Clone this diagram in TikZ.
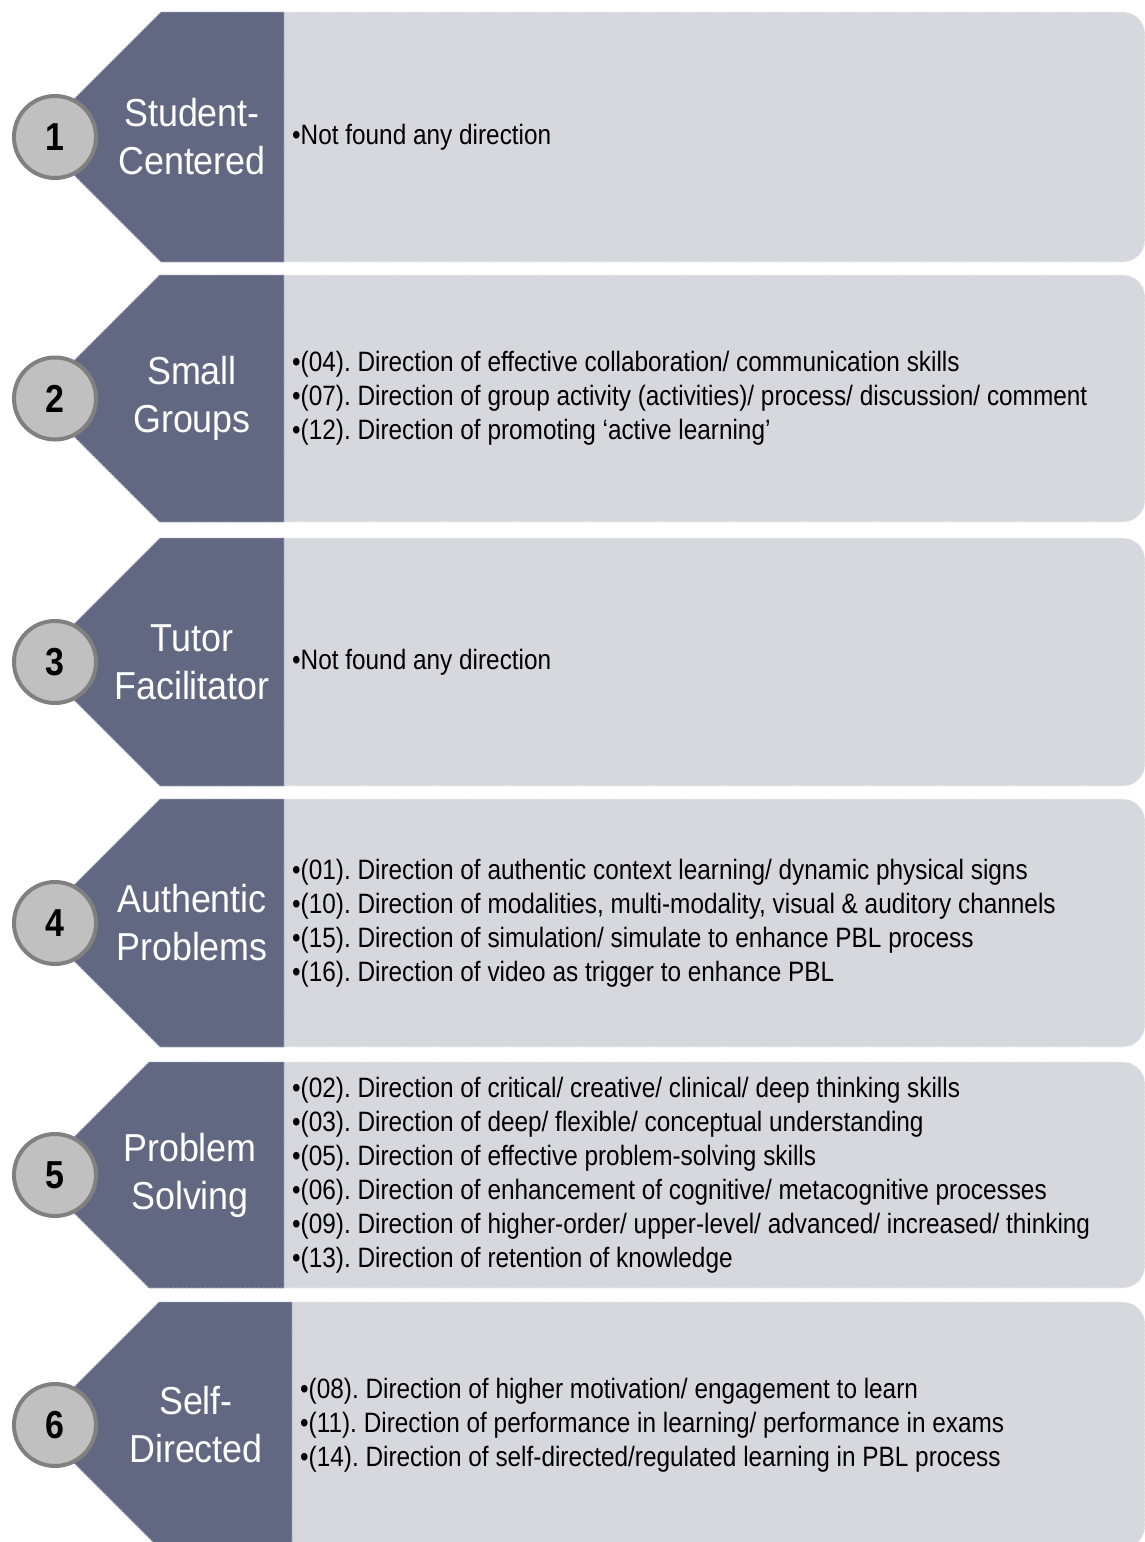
\documentclass[tikz,border=0pt]{standalone}
\usepackage{fontspec}
\setmainfont[FakeStretch=0.87]{Liberation Sans}
\newfontfamily\lblfont[FakeStretch=0.92]{Liberation Sans}
\frenchspacing
\definecolor{darkfill}{HTML}{626882}
\definecolor{darkedge}{HTML}{A7B0C4}
\definecolor{lightfill}{HTML}{D7D8DD}
\definecolor{lightedge}{HTML}{F2F2F4}
\definecolor{circfill}{HTML}{C0C0C0}
\definecolor{ringgray}{HTML}{808080}
\tikzset{
  chevshape/.style={fill=darkfill, draw=darkedge, line width=0.8pt, dash pattern=on 3pt off 1.5pt},
  lightbox/.style={fill=lightfill, draw=lightedge, line width=0.8pt, dash pattern=on 3pt off 1.5pt},
  numcirc/.style={circle, fill=circfill, draw=ringgray, line width=4pt, minimum size=82pt, inner sep=0pt,
    font=\fontsize{39}{40}\selectfont\bfseries, text=black},
  lbl/.style={text=white, align=center, inner sep=0pt, font=\lblfont\fontsize{39}{48}\selectfont},
  items/.style={anchor=west, align=left, inner sep=0pt, text=black, font=\fontsize{28}{34}\selectfont}
}
% #1 id, #2 top, #3 bottom, #4 dark right x, #5 number, #6 label, #7 items, #8 label x
\newcommand{\pblrow}[8]{%
  \pgfmathsetmacro{\rmid}{(#2+#3)/2}%
  \pgfmathsetmacro{\rhalf}{(#3-#2)/2}%
  \pgfmathsetmacro{\rtl}{36+\rhalf}%
  \pgfmathsetmacro{\rbr}{#3-22}%
  \path[lightbox] (#4,#2) -- (1123,#2) arc[start angle=90, end angle=0, radius=22pt]
     -- (1145,\rbr) arc[start angle=0, end angle=-90, radius=22pt] -- (#4,#3) -- cycle;
  \path[chevshape] (36,\rmid) -- (\rtl,#2) -- (#4,#2) -- (#4,#3) -- (\rtl,#3) -- cycle;
  \node[numcirc] (num#1) at (55,\rmid) {#5};
  \node[lbl] (lbl#1) at (#8,\rmid) {#6};
  \node[items] (txt#1) at (#4+8,\rmid) {#7};
}
\begin{document}
\begin{tikzpicture}[x=1pt, y=-1pt]
\useasboundingbox (0,0) rectangle (1145,1542);
\clip (0,0) rectangle (1145,1542);
\pblrow{a}{12}{262}{284}{1}{Student-\\Centered}{•Not found any direction}{192}
\pblrow{b}{275}{522}{284}{2}{Small\\Groups}{•(04). Direction of effective collaboration/ communication skills\\
•(07). Direction of group activity (activities)/ process/ discussion/ comment\\
•(12). Direction of promoting ‘active learning'}{192}
\pblrow{c}{538}{786}{284}{3}{Tutor\\Facilitator}{•Not found any direction}{192}
\pblrow{d}{799}{1047}{284}{4}{Authentic\\Problems}{•(01). Direction of authentic context learning/ dynamic physical signs\\
•(10). Direction of modalities, multi-modality, visual \& auditory channels\\
•(15). Direction of simulation/ simulate to enhance PBL process\\
•(16). Direction of video as trigger to enhance PBL}{192}
\pblrow{e}{1062}{1288}{284}{5}{Problem\\Solving}{•(02). Direction of critical/ creative/ clinical/ deep thinking skills\\
•(03). Direction of deep/ flexible/ conceptual understanding\\
•(05). Direction of effective problem-solving skills\\
•(06). Direction of enhancement of cognitive/ metacognitive processes\\
•(09). Direction of higher-order/ upper-level/ advanced/ increased/ thinking\\
•(13). Direction of retention of knowledge}{190}
\pblrow{f}{1302}{1548}{292}{6}{Self-\\Directed}{•(08). Direction of higher motivation/ engagement to learn\\
•(11). Direction of performance in learning/ performance in exams\\
•(14). Direction of self-directed/regulated learning in PBL process}{196}
\end{tikzpicture}
\end{document}
